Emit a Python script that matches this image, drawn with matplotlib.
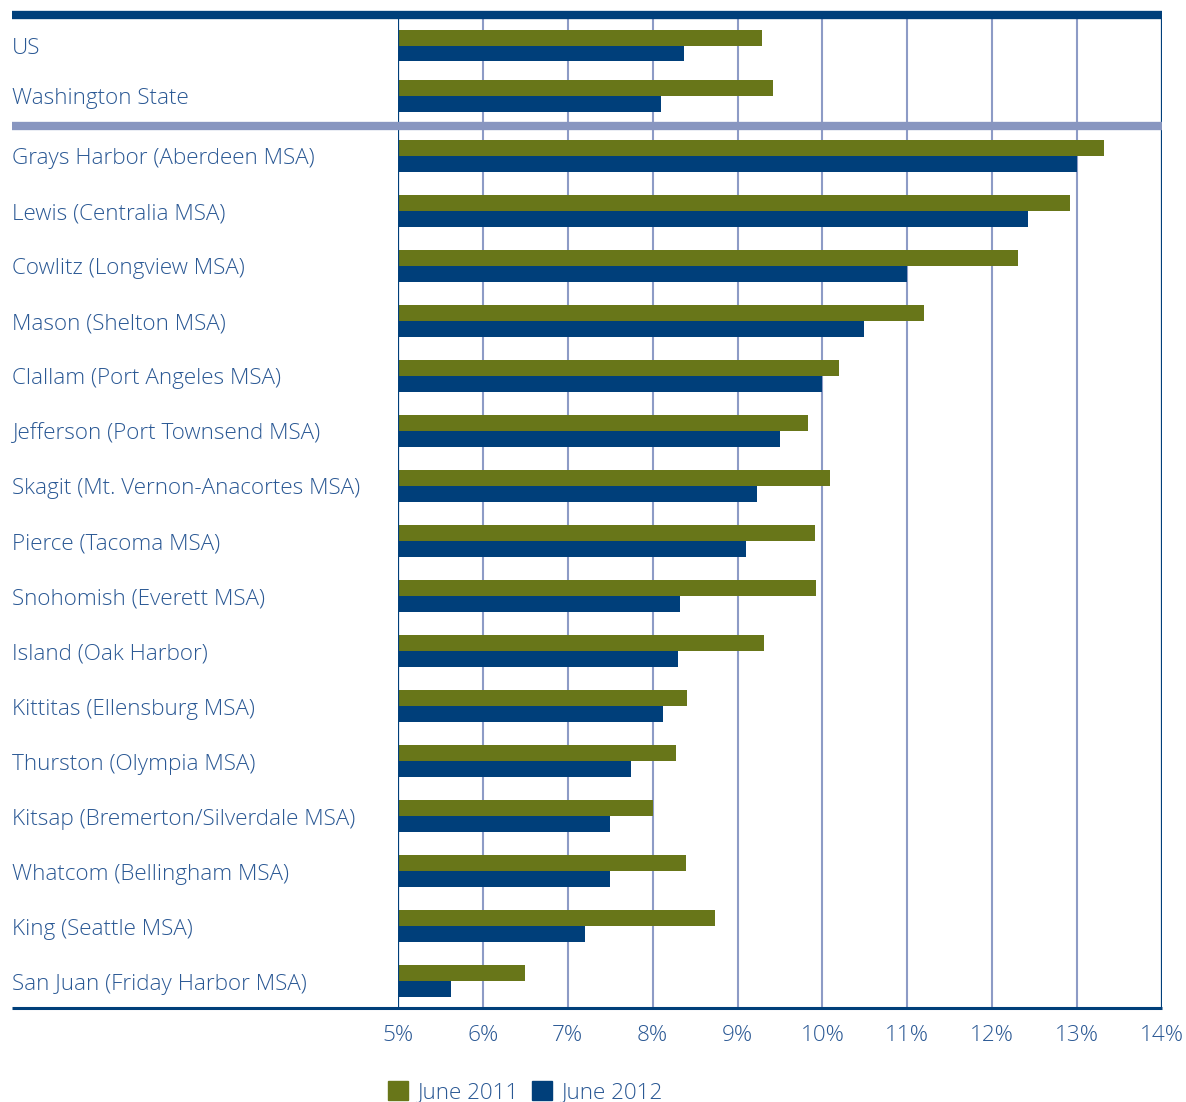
import numpy as np
import matplotlib.pyplot as plt
from matplotlib.patches import Patch
from matplotlib.transforms import offset_copy

# summary rows (top, above the separator)
top_names = ['US', 'Washington State']
top_2011 = [9.29, 9.42]
top_2012 = [8.37, 8.10]

# counties, top to bottom
counties = ['Grays Harbor (Aberdeen MSA)', 'Lewis (Centralia MSA)', 'Cowlitz (Longview MSA)',
            'Mason (Shelton MSA)', 'Clallam (Port Angeles MSA)', 'Jefferson (Port Townsend MSA)',
            'Skagit (Mt. Vernon-Anacortes MSA)', 'Pierce (Tacoma MSA)', 'Snohomish (Everett MSA)',
            'Island (Oak Harbor)', 'Kittitas (Ellensburg MSA)', 'Thurston (Olympia MSA)',
            'Kitsap (Bremerton/Silverdale MSA)', 'Whatcom (Bellingham MSA)', 'King (Seattle MSA)',
            'San Juan (Friday Harbor MSA)']
county_2011 = [13.32, 12.92, 12.30, 11.20, 10.20, 9.83, 10.09, 9.91, 9.92, 9.31,
               8.40, 8.27, 8.00, 8.39, 8.73, 6.50]
county_2012 = [13.00, 12.42, 11.00, 10.49, 10.00, 9.50, 9.23, 9.10, 8.32, 8.30,
               8.12, 7.74, 7.50, 7.50, 7.20, 5.62]

xticks = [5, 6, 7, 8, 9, 10, 11, 12, 13, 14]

green = '#687619'
navy = '#003f7a'
text_c = '#2a5894'
grid_c = '#8d9bc6'

plt.rcParams['font.family'] = ['Open Sans', 'DejaVu Sans']

fig = plt.figure(figsize=(11.86, 11.02), dpi=100)
ax = fig.add_axes([398 / 1186, 1 - 1008 / 1102, 764 / 1186, 993 / 1102])

n = len(counties)
cy = np.arange(n)[::-1].astype(float)
ty = np.array([n - 1 + 2.0, n - 1 + 1.09])
names = top_names + counties
ys = np.concatenate([ty, cy])
v11 = top_2011 + county_2011
v12 = top_2012 + county_2012

h = 0.285
base = 5
ax.barh(ys + h / 2, np.array(v11) - base, left=base, height=h, color=green, zorder=3)
ax.barh(ys - h / 2, np.array(v12) - base, left=base, height=h, color=navy, zorder=3)

ax.set_xlim(5, 14)
ax.set_ylim(-0.49, n - 1 + 2.56)

for x in xticks[1:-1]:
    ax.axvline(x, color=grid_c, lw=1.5, zorder=1)
ax.axvline(5, color=navy, lw=1.6, zorder=4)
ax.axvline(14, color=navy, lw=1.6, zorder=4)

xl = (12 - 398) / 764
yt = ax.get_yaxis_transform()
ax.plot([xl, 1], [n - 1 + 2.56, n - 1 + 2.56], transform=yt, color=navy, lw=6, clip_on=False, zorder=5,
        solid_capstyle='butt')
sep = (ty[1] + cy[0]) / 2
ax.plot([xl, 1], [sep, sep], transform=yt, color='#8896c0', lw=6, clip_on=False, zorder=5,
        solid_capstyle='butt')
ax.plot([xl, 1], [-0.49, -0.49], transform=yt, color=navy, lw=2.2, clip_on=False, zorder=5,
        solid_capstyle='butt')

lt = offset_copy(yt, fig=fig, y=-2.2, units='points')
for name, y in zip(names, ys):
    ax.text(xl, y, name, transform=lt, ha='left', va='center', fontsize=16.2, color=text_c,
            fontweight='light')

for s in ax.spines.values():
    s.set_visible(False)
ax.set_yticks([])
ax.set_xticks(xticks)
ax.set_xticklabels([f'{x}%' for x in xticks], fontsize=16.2, color=text_c, fontweight='light')
ax.tick_params(axis='x', length=0, pad=12)

handles = [Patch(color=green, label='June 2011'), Patch(color=navy, label='June 2012')]
fig.legend(handles=handles, loc='center', bbox_to_anchor=(0.443, 0.009), ncol=2, frameon=False,
           handlelength=0.9, handleheight=0.9, handletextpad=0.4, columnspacing=0.6,
           labelcolor=text_c, prop={'size': 16.2, 'weight': 'light'})

fig.savefig('out.png', dpi=100)
